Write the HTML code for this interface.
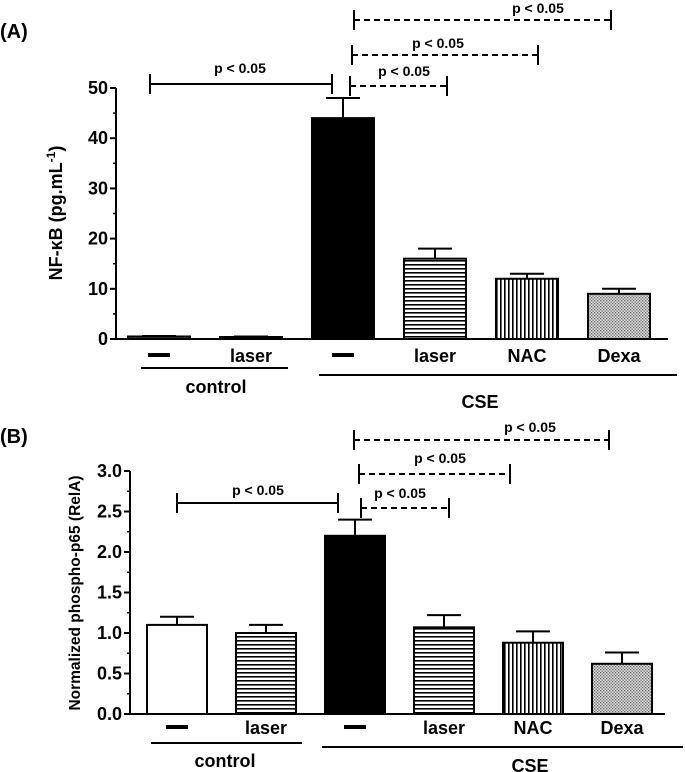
<!DOCTYPE html>
<html><head><meta charset="utf-8"><style>
html,body{margin:0;padding:0;background:#fff;}
svg{display:block;font-family:"Liberation Sans",sans-serif;}
</style></head><body>
<svg id="chart" width="685" height="772" viewBox="0 0 685 772">
<defs>
<pattern id="hstripe" width="6" height="4" patternUnits="userSpaceOnUse"><rect width="6" height="4" fill="#fff"/><rect y="0" width="6" height="1.6" fill="#000"/></pattern>
<pattern id="vstripe" width="4" height="6" patternUnits="userSpaceOnUse"><rect width="4" height="6" fill="#fff"/><rect x="0" width="1.6" height="6" fill="#000"/></pattern>
<pattern id="dots" width="3" height="3" patternUnits="userSpaceOnUse"><rect width="3" height="3" fill="#ddd"/><rect width="1.3" height="1.3" fill="#666"/><rect x="1.5" y="1.5" width="1.3" height="1.3" fill="#666"/></pattern>
</defs>
</svg>
<script>
const categories = ["—", "laser", "—", "laser", "NAC", "Dexa"];
const valuesA = [0.5, 0.4, 44, 16, 12, 9];
const errorsA = [0.6, 0.5, 48, 18, 13, 10];
const ticksA = [0, 10, 20, 30, 40, 50];
const valuesB = [1.1, 1.0, 2.2, 1.07, 0.88, 0.62];
const errorsB = [1.2, 1.1, 2.4, 1.22, 1.02, 0.76];
const ticksB = [0.0, 0.5, 1.0, 1.5, 2.0, 2.5, 3.0];
const fills = ["#fff", "url(#hstripe)", "#000", "url(#hstripe)", "url(#vstripe)", "url(#dots)"];
const fillsA = ["#555", "#555", "#000", "url(#hstripe)", "url(#vstripe)", "url(#dots)"];

const svg = document.getElementById('chart');
const NS = 'http://www.w3.org/2000/svg';
function el(tag, attrs, parent, text) {
  const e = document.createElementNS(NS, tag);
  for (const k in attrs) e.setAttribute(k, attrs[k]);
  if (text !== undefined) e.textContent = text;
  (parent || svg).appendChild(e);
  return e;
}

function panel(cfg) {
  const g = el('g', {});
  
  
  const y = v => cfg.y0 - (v - cfg.vmin) / (cfg.vmax - cfg.vmin) * (cfg.y0 - cfg.y1);
  const x = i => cfg.x0 + i * cfg.pitch;
  const lt = el('text', {x: 0, y: cfg.letterY, 'font-size': 20, 'font-weight': 'bold'}, g, cfg.letter);
  
  
  cfg.values.forEach((v, i) => {
    const cx = x(i);
    const r = el('rect', {x: cx - cfg.bw/2, y: y(v), width: cfg.bw, height: y(0) - y(v), fill: cfg.fills[i], stroke: '#000', 'stroke-width': 2}, g);
    
    
    const e = cfg.errors[i];
    const eg = el('path', {d: `M${cx} ${y(v)}V${y(e)}M${cx-17} ${y(e)}H${cx+17}`, stroke: '#000', 'stroke-width': 2, fill: 'none'}, g);
    
    
    if (categories[i] === '—') {
      const d = el('rect', {x: cx - 11, y: cfg.catY - 9, width: 22, height: 4, fill: '#000'}, g);
      
      
    } else {
      const t = el('text', {x: cx, y: cfg.catY, 'text-anchor': 'middle', 'font-size': 18, 'font-weight': 'bold'}, g, categories[i]);
      
      
    }
  });
  const ax = el('path', {d: `M${cfg.ax} ${y(cfg.vmax)}V${y(0)}H${cfg.axEnd}`, stroke: '#000', 'stroke-width': 2, fill: 'none'}, g);
  
  
  cfg.ticks.forEach((t, i) => {
    const tk = el('line', {x1: cfg.ax - 6, x2: cfg.ax, y1: y(t), y2: y(t), stroke: '#000', 'stroke-width': 2}, g);
    
    
    if (i < cfg.ticks.length - 1) {
      const mid = (t + cfg.ticks[i+1]) / 2;
      const mk = el('line', {x1: cfg.ax - 3, x2: cfg.ax, y1: y(mid), y2: y(mid), stroke: '#000', 'stroke-width': 1.5}, g);
      
      
    }
    const tl = el('text', {x: cfg.ax - 8, y: y(t) + 6, 'text-anchor': 'end', 'font-size': 18, 'font-weight': 'bold'}, g, cfg.fmt(t));
    
    
  });
  const yt = el('text', {x: 0, y: 0, transform: `translate(${cfg.ytX},${cfg.ytY}) rotate(-90)`, 'text-anchor': 'middle', 'font-size': cfg.ytSize, 'font-weight': 'bold'}, g);
  
  
  yt.innerHTML = cfg.ytitle;
  cfg.groups.forEach(gr => {
    const l = el('line', {x1: gr.x1, x2: gr.x2, y1: gr.ly, y2: gr.ly, stroke: '#000', 'stroke-width': 2}, g);
    
    
    const t = el('text', {x: gr.tx, y: gr.ty, 'text-anchor': 'middle', 'font-size': 18, 'font-weight': 'bold'}, g, gr.label);
    
    
  });
  cfg.brackets.forEach(b => {
    const p = el('path', {d: `M${b.x1} ${b.y-10}V${b.y+10}M${b.x2} ${b.y-10}V${b.y+10}` + (b.dash ? '' : `M${b.x1} ${b.y}H${b.x2}`), stroke: '#000', 'stroke-width': 2, fill: 'none'}, g);
    
    
    if (b.dash) {
      const dl = el('line', {x1: b.x1, x2: b.x2, y1: b.y, y2: b.y, stroke: '#000', 'stroke-width': 2, 'stroke-dasharray': '6 4'}, g);
      
      
    }
    const t = el('text', {x: b.tx, y: b.ty, 'text-anchor': 'middle', 'font-size': 14, 'font-weight': 'bold'}, g, 'p < 0.05');
    
    
  });
}

panel({name: 'panel-a', letter: '(A)', letterY: 38, values: valuesA, errors: errorsA, ticks: ticksA, fills: fillsA,
  vmin: 0, vmax: 50, y0: 339, y1: 88, x0: 159, pitch: 92, bw: 62, ax: 116, axEnd: 668, fmt: t => String(t),
  catY: 362, ytX: 62, ytY: 213, ytSize: 18, ytitle: 'NF-κB (pg.mL<tspan dy="-7" font-size="12">-1</tspan><tspan dy="7">)</tspan>',
  groups: [{label: 'control', x1: 141, x2: 288, ly: 368, tx: 216, ty: 393}, {label: 'CSE', x1: 319, x2: 677, ly: 375, tx: 480, ty: 408}],
  brackets: [
    {x1: 150, x2: 332, y: 84, tx: 240, ty: 73, dash: false},
    {x1: 350, x2: 447, y: 86, tx: 404, ty: 76, dash: true},
    {x1: 352, x2: 538, y: 55, tx: 438, ty: 48, dash: true},
    {x1: 354, x2: 611, y: 20, tx: 538, ty: 13, dash: true}
  ]});

panel({name: 'panel-b', letter: '(B)', letterY: 443, values: valuesB, errors: errorsB, ticks: ticksB, fills: fills,
  vmin: 0, vmax: 3, y0: 714, y1: 471, x0: 177, pitch: 89, bw: 60, ax: 130, axEnd: 665, fmt: t => t.toFixed(1),
  catY: 734, ytX: 80, ytY: 593, ytSize: 15.5, ytitle: 'Normalized phospho-p65 (RelA)',
  groups: [{label: 'control', x1: 151, x2: 302, ly: 743, tx: 225, ty: 767}, {label: 'CSE', x1: 322, x2: 683, ly: 747, tx: 530, ty: 772}],
  brackets: [
    {x1: 177, x2: 338, y: 503, tx: 258, ty: 495, dash: false},
    {x1: 361, x2: 449, y: 508, tx: 400, ty: 498, dash: true},
    {x1: 359, x2: 510, y: 474, tx: 440, ty: 463, dash: true},
    {x1: 354, x2: 609, y: 440, tx: 530, ty: 432, dash: true}
  ]});
</script>
</body></html>
